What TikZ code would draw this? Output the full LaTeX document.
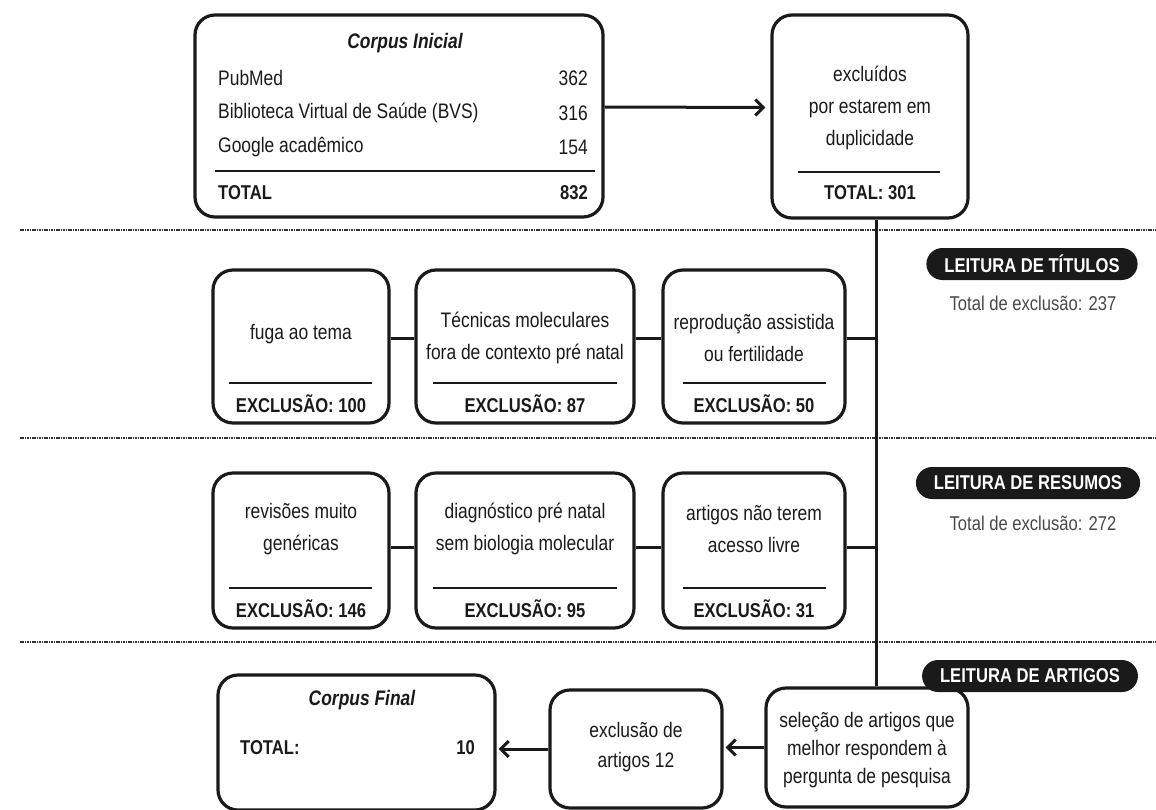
\documentclass[tikz,border=0pt]{standalone}
\usepackage{fontspec}
\setmainfont[FakeStretch=0.83]{Liberation Sans}
\usetikzlibrary{arrows.meta}
\definecolor{ink}{HTML}{1A1A1A}
\tikzset{
  box/.style={draw=ink, line width=3.2pt, rounded corners=20pt, inner sep=0pt},
  txt/.style={font=\fontsize{21}{32}\selectfont, align=center, inner sep=0pt, text=ink},
  num/.style={font=\bfseries\fontsize{20}{24}\selectfont, inner sep=0pt, text=ink},
  ttl/.style={font=\bfseries\itshape\fontsize{21}{24}\selectfont, inner sep=0pt, text=ink},
  pill/.style={fill=ink, text=white, rounded corners=16pt, minimum height=32pt,
    inner xsep=18pt, inner ysep=0pt, font=\bfseries\fontsize{20}{24}\selectfont},
  note/.style={font=\fontsize{20}{24}\selectfont, text=ink!80, inner sep=0pt},
  sepline/.style={draw=ink, line width=1.8pt},
  band/.style={draw=ink!90, line width=2.4pt, dash pattern=on 1.6pt off 0.8pt},
  link/.style={draw=ink, line width=3pt},
  flow/.style={draw=ink, line width=3pt, -{Straight Barb[length=8pt,width=16pt]}},
}
\begin{document}
\begin{tikzpicture}[x=1pt,y=-1pt]
    \useasboundingbox (0,0) rectangle (1156,809);

    % phase bands
    \draw[band] (20,230) -- (1156,230);
    \draw[band] (20,438) -- (1156,438);
    \draw[band] (20,642) -- (1156,642);

    % initial corpus
    \node[box, minimum width=408pt, minimum height=202pt] (ini) at (399,116) {};
    \node[ttl] (iniT) at (405,43) {Corpus Inicial};
    \node[txt, anchor=west] (pub) at (218,78) {PubMed};
    \node[txt, anchor=west] (bvs) at (218,113) {Biblioteca Virtual de Saúde (BVS)};
    \node[txt, anchor=west] (goo) at (218,147) {Google acadêmico};
    \node[txt, anchor=east] (pubN) at (588,78) {362};
    \node[txt, anchor=east] (bvsN) at (588,113) {316};
    \node[txt, anchor=east] (gooN) at (588,147) {154};
    \draw[sepline] (215,171) -- (595,171);
    \node[num, anchor=west] (iniL) at (218,193) {TOTAL};
    \node[num, anchor=east] (iniN) at (588,193) {832};

    % duplicates
    \node[box, minimum width=196pt, minimum height=203pt] (dup) at (870,116.5) {};
    \node[txt] (dupT) at (870,108) {excluídos\\por estarem em\\duplicidade};
    \draw[sepline] (798,172) -- (940,172);
    \node[num] (dupN) at (870,193) {TOTAL: 301};
    \draw[flow, shorten >=5pt] ([yshift=9pt]ini.east) -- ([yshift=9pt]dup.west);

    \coordinate (spine) at (876,0);

    % title reading
    \node[box, minimum width=176pt, minimum height=153pt] (tit1) at (301,346.5) {};
    \node[box, minimum width=218pt, minimum height=153pt] (tit2) at (525,346.5) {};
    \node[box, minimum width=182pt, minimum height=153pt] (tit3) at (754,346.5) {};
    \node[txt] (tit1T) at (301,334) {fuga ao tema};
    \node[txt] (tit2T) at (525,338) {Técnicas moleculares\\fora de contexto pré natal};
    \node[txt] (tit3T) at (754,338) {reprodução assistida\\ou fertilidade};
    \draw[sepline] (229,383) -- (372,383);
    \draw[sepline] (433,383) -- (617,383);
    \draw[sepline] (683,383) -- (826,383);
    \node[num] (tit1N) at (301,404) {EXCLUSÃO: 100};
    \node[num] (tit2N) at (525,404) {EXCLUSÃO: 87};
    \node[num] (tit3N) at (754,404) {EXCLUSÃO: 50};
    \draw[link] ([yshift=8pt]tit1.east) -- ([yshift=8pt]tit2.west);
    \draw[link] ([yshift=8pt]tit2.east) -- ([yshift=8pt]tit3.west);
    \draw[link] ([yshift=8pt]tit3.east) -- ([yshift=8pt]tit3.east -| spine);
    \node[pill] (titP) at (1032,264) {LEITURA DE TÍTULOS};
    \node[note] (titS) at (1033,303) {Total de exclusão: 237};

    % abstract reading
    \node[box, minimum width=176pt, minimum height=155pt] (res1) at (301,550.5) {};
    \node[box, minimum width=218pt, minimum height=155pt] (res2) at (525,550.5) {};
    \node[box, minimum width=182pt, minimum height=155pt] (res3) at (754,550.5) {};
    \node[txt] (res1T) at (301,529) {revisões muito\\genéricas};
    \node[txt] (res2T) at (525,529) {diagnóstico pré natal\\sem biologia molecular};
    \node[txt] (res3T) at (754,529) {artigos não terem\\acesso livre};
    \draw[sepline] (229,588) -- (372,588);
    \draw[sepline] (433,588) -- (617,588);
    \draw[sepline] (683,588) -- (826,588);
    \node[num] (res1N) at (301,609) {EXCLUSÃO: 146};
    \node[num] (res2N) at (525,609) {EXCLUSÃO: 95};
    \node[num] (res3N) at (754,609) {EXCLUSÃO: 31};
    \draw[link] ([yshift=3pt]res1.east) -- ([yshift=3pt]res2.west);
    \draw[link] ([yshift=3pt]res2.east) -- ([yshift=3pt]res3.west);
    \draw[link] ([yshift=3pt]res3.east) -- ([yshift=3pt]res3.east -| spine);
    \node[pill] (resP) at (1028,483) {LEITURA DE RESUMOS};
    \node[note] (resS) at (1033,523) {Total de exclusão: 272};

    % article reading
    \node[box, minimum width=202pt, minimum height=119pt] (sel) at (867,747.5) {};
    \node[txt, font=\fontsize{21}{28}\selectfont] (selT) at (867,750) {seleção de artigos que\\melhor respondem à\\pergunta de pesquisa};
    \node[box, minimum width=172pt, minimum height=118pt] (exc) at (636,749) {};
    \node[txt, font=\fontsize{21}{30}\selectfont] (excT) at (636,747) {exclusão de\\artigos 12};
    \node[box, minimum width=277pt, minimum height=135pt] (fin) at (356.5,742.5) {};
    \node[ttl] (finT) at (362,700) {Corpus Final};
    \node[num, anchor=west] (finL) at (240,748) {TOTAL:};
    \node[num, anchor=east] (finN) at (475,748) {10};
    \draw[link] (dup.south -| spine) -- (sel.north -| spine);
    \draw[flow, shorten >=2pt] (sel.west) -- (sel.west -| exc.east);
    \draw[flow, shorten >=2pt] (exc.west) -- (exc.west -| fin.east);
    \node[pill] (artP) at (1030,676) {LEITURA DE ARTIGOS};
\end{tikzpicture}
\end{document}
